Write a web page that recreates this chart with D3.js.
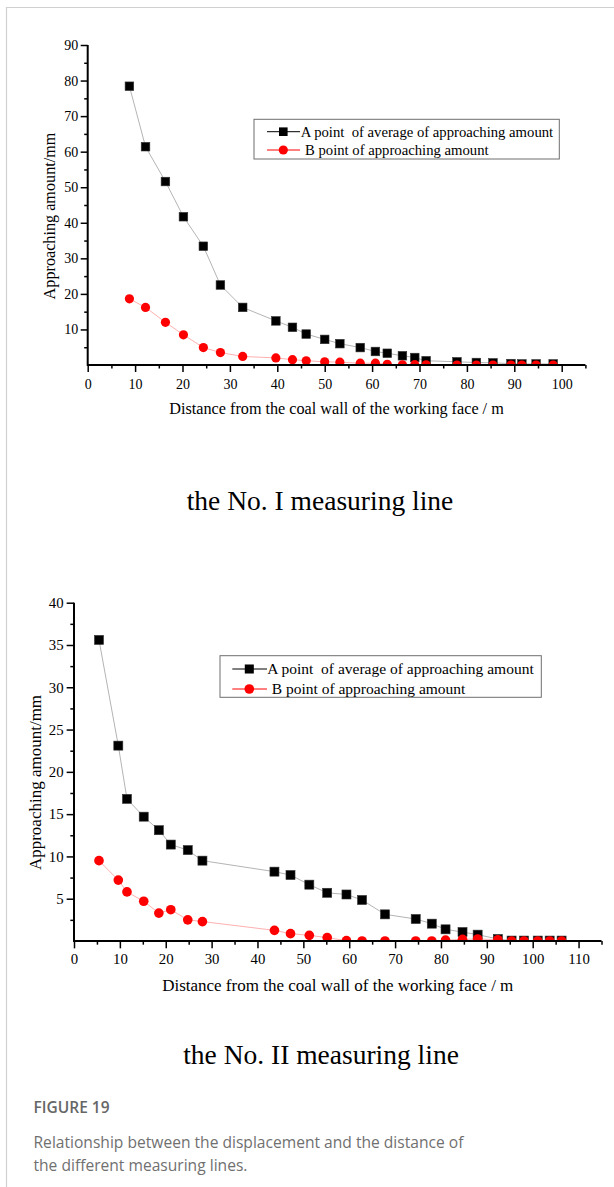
<!DOCTYPE html>
<html>
<head>
<meta charset="utf-8">
<script src="https://cdn.jsdelivr.net/npm/d3@7"></script>
<style>
  html, body { margin: 0; padding: 0; background: #fff; }
  svg { display: block; }
  svg text.serif { font-family: "Liberation Serif", "Times New Roman", serif; fill: #000; }
  svg text.caption { font-family: "Open Sans", "Noto Sans", sans-serif; }
</style>
</head>
<body>
<svg id="fig" width="614" height="1187"></svg>
<script>
// ---- No. I measuring line ----
const distI   = [8.8, 12.2, 16.4, 20.2, 24.4, 28.0, 32.7, 39.7, 43.2, 46.1, 50.0, 53.2, 57.5,
                 60.7, 63.2, 66.4, 69.0, 71.4, 77.9, 82.0, 85.5, 89.3, 91.6, 94.6, 98.2];
const pointA_I = [78.4, 61.4, 51.6, 41.7, 33.4, 22.5, 16.2, 12.4, 10.6, 8.7, 7.2, 6.0, 4.9,
                  3.8, 3.3, 2.6, 2.1, 1.2, 0.9, 0.7, 0.6, 0.4, 0.3, 0.3, 0.3];
const pointB_I = [18.6, 16.2, 12.0, 8.5, 4.9, 3.5, 2.4, 2.0, 1.5, 1.2, 0.9, 0.8, 0.5,
                  0.5, 0.2, 0.05, 0.1, 0.05, 0, 0, 0, 0, 0, 0, 0];
const xTicksI = [0, 10, 20, 30, 40, 50, 60, 70, 80, 90, 100];
const yTicksI = [10, 20, 30, 40, 50, 60, 70, 80, 90];

// ---- No. II measuring line ----
const distII   = [5.45, 9.66, 11.55, 15.2, 18.5, 21.1, 24.8, 28.0, 43.7, 47.2, 51.3, 55.2, 59.4,
                  62.8, 67.8, 74.5, 78.0, 81.0, 84.7, 88.0, 92.4, 95.4, 98.1, 101.1, 103.7, 106.3];
const pointA_II = [35.6, 23.1, 16.8, 14.7, 13.1, 11.4, 10.75, 9.5, 8.2, 7.8, 6.66, 5.7, 5.5,
                   4.85, 3.15, 2.6, 2.05, 1.38, 1.06, 0.75, 0.24, 0.05, 0.05, 0.05, 0.05, 0.05];
const pointB_II = [9.5, 7.2, 5.8, 4.7, 3.3, 3.7, 2.5, 2.3, 1.26, 0.87, 0.67, 0.4, 0.04,
                   0, 0, 0, 0, 0.1, 0.2, 0.24, 0.15, 0, 0, 0, 0, 0];
const xTicksII = [0, 10, 20, 30, 40, 50, 60, 70, 80, 90, 100, 110];
const yTicksII = [5, 10, 15, 20, 25, 30, 35, 40];

const seriesNames = ["A point  of average of approaching amount", "B point of approaching amount"];
const yTitle = "Approaching amount/mm";
const xTitle = "Distance from the coal wall of the working face / m";
const panelTitles = ["the No. I measuring line", "the No. II measuring line"];
const captionHead = "FIGURE 19";
const captionLines = ["Relationship between the displacement and the distance of",
                      "the different measuring lines."];

const SERIF = '"Liberation Serif", "Times New Roman", serif';
const svg = d3.select("#fig");

// page frame
svg.append("path")
  .attr("d", "M6.5,1187 V7.5 H614")
  .attr("fill", "none").attr("stroke", "#d0d0d0").attr("stroke-width", 1.2);

function styleAxis(sel, fontSize) {
  sel.attr("font-family", SERIF).attr("font-size", fontSize);
  sel.select(".domain").remove();
  sel.selectAll("line").attr("stroke-width", 1.5);
  sel.selectAll("text").attr("font-family", SERIF).attr("font-size", fontSize).attr("fill", "#000");
}

function drawPanel(cfg) {
  const g = svg.append("g");
  const x = d3.scaleLinear().domain(cfg.xDomain).range([cfg.left, cfg.right]);
  const y = d3.scaleLinear().domain(cfg.yDomain).range([cfg.bottom, cfg.top]);
  const s = cfg.scale;

  // minor ticks
  g.append("g").attr("transform", `translate(0,${cfg.bottom})`)
    .call(d3.axisBottom(x).tickValues(cfg.xMinor).tickSize(3.5 * s).tickFormat(""))
    .call(a => styleAxis(a, cfg.tickFont));
  g.append("g").attr("transform", `translate(${cfg.left},0)`)
    .call(d3.axisLeft(y).tickValues(cfg.yMinor).tickSize(3.5 * s).tickFormat(""))
    .call(a => styleAxis(a, cfg.tickFont));

  // major ticks + labels
  g.append("g").attr("transform", `translate(0,${cfg.bottom})`)
    .call(d3.axisBottom(x).tickValues(cfg.xTicks).tickSize(7 * s).tickPadding(cfg.xPad))
    .call(a => styleAxis(a, cfg.tickFont));
  g.append("g").attr("transform", `translate(${cfg.left},0)`)
    .call(d3.axisLeft(y).tickValues(cfg.yTicks).tickSize(7 * s).tickPadding(cfg.yPad))
    .call(a => styleAxis(a, cfg.tickFont));

  // data, clipped to the plotting area
  const clipId = "clip" + cfg.id;
  svg.append("clipPath").attr("id", clipId).append("rect")
    .attr("x", cfg.left).attr("y", cfg.top - 6)
    .attr("width", cfg.right - cfg.left + 6).attr("height", cfg.bottom - cfg.top + 6);
  const plot = g.append("g").attr("clip-path", `url(#${clipId})`);

  const ptsA = cfg.dist.map((d, i) => [d, cfg.a[i]]);
  const ptsB = cfg.dist.map((d, i) => [d, cfg.b[i]]);
  const line = d3.line().x(d => x(d[0])).y(d => y(d[1]));

  plot.append("path").datum(ptsA).attr("d", line)
    .attr("fill", "none").attr("stroke", "#b4b4b4").attr("stroke-width", 1);
  plot.append("path").datum(ptsB).attr("d", line)
    .attr("fill", "none").attr("stroke", "#ffb0b0").attr("stroke-width", 1);

  const sq = 8.6 * s;
  plot.selectAll("rect.a").data(ptsA).enter().append("rect")
    .attr("x", d => x(d[0]) - sq / 2).attr("y", d => y(d[1]) - sq / 2)
    .attr("width", sq).attr("height", sq)
    .attr("fill", "#000").attr("stroke", "#333").attr("stroke-width", 0.6);
  plot.selectAll("circle.b").data(ptsB).enter().append("circle")
    .attr("cx", d => x(d[0])).attr("cy", d => y(d[1])).attr("r", 4.6 * s)
    .attr("fill", "#ff0000");

  // axis lines
  g.append("path")
    .attr("d", `M${cfg.left},${cfg.top} V${cfg.bottom} H${cfg.right}`)
    .attr("fill", "none").attr("stroke", "#000").attr("stroke-width", 2);

  // axis titles
  g.append("text").attr("class", "serif").attr("font-family", SERIF)
    .attr("x", (cfg.left + cfg.right) / 2).attr("y", cfg.xTitleY)
    .attr("text-anchor", "middle").attr("font-size", cfg.titleFont).text(xTitle);
  g.append("text").attr("class", "serif").attr("font-family", SERIF)
    .attr("transform", `translate(${cfg.yTitleX},${cfg.yTitleY}) rotate(-90)`)
    .attr("text-anchor", "middle").attr("font-size", cfg.titleFont).text(yTitle);

  // legend
  const L = cfg.legend;
  g.append("rect").attr("x", L.x0).attr("y", L.y0)
    .attr("width", L.x1 - L.x0).attr("height", L.y1 - L.y0)
    .attr("fill", "#fff").attr("stroke", "#6e6e6e").attr("stroke-width", 1);
  const rows = [
    { name: seriesNames[0], color: "#000", shape: "square", y: L.rowA, tx: L.textA },
    { name: seriesNames[1], color: "#ff0000", shape: "circle", y: L.rowB, tx: L.textB }
  ];
  rows.forEach(r => {
    g.append("line").attr("x1", L.lineX0).attr("x2", L.lineX1)
      .attr("y1", r.y).attr("y2", r.y).attr("stroke", r.color).attr("stroke-width", 1);
    if (r.shape === "square") {
      g.append("rect").attr("x", L.mark - sq / 2).attr("y", r.y - sq / 2)
        .attr("width", sq).attr("height", sq).attr("fill", "#000");
    } else {
      g.append("circle").attr("cx", L.mark).attr("cy", r.y).attr("r", 4.6 * s).attr("fill", "#ff0000");
    }
    g.append("text").attr("class", "serif").attr("font-family", SERIF)
      .attr("x", r.tx).attr("y", r.y)
      .attr("dy", "0.34em").attr("font-size", cfg.legendFont)
      .style("white-space", "pre").text(r.name);
  });

  // panel title
  g.append("text").attr("class", "serif").attr("font-family", SERIF)
    .attr("x", cfg.panelX).attr("y", cfg.panelY)
    .attr("text-anchor", "middle").attr("font-size", 27.5).text(cfg.panelTitle);
}

drawPanel({
  id: 1, scale: 1,
  dist: distI, a: pointA_I, b: pointB_I,
  xDomain: [0, 105], yDomain: [0, 90],
  left: 87.7, right: 585.4, top: 45, bottom: 365,
  xTicks: xTicksI, yTicks: yTicksI,
  xMinor: d3.range(5, 106, 10), yMinor: d3.range(5, 90, 10),
  tickFont: 14, xPad: 7, yPad: 2.5,
  titleFont: 16.2, xTitleY: 413.5, yTitleX: 55, yTitleY: 216,
  legendFont: 14.7,
  legend: { x0: 254, x1: 559.3, y0: 119.3, y1: 159, rowA: 131.7, rowB: 150,
            lineX0: 267, lineX1: 300, mark: 283.3, textA: 300.7, textB: 305 },
  panelTitle: panelTitles[0], panelX: 320, panelY: 510
});

drawPanel({
  id: 2, scale: 1.05,
  dist: distII, a: pointA_II, b: pointB_II,
  xDomain: [0, 115], yDomain: [0, 40],
  left: 74, right: 601.5, top: 602.7, bottom: 941,
  xTicks: xTicksII, yTicks: yTicksII,
  xMinor: d3.range(5, 116, 10), yMinor: d3.range(2.5, 40, 5),
  tickFont: 14.8, xPad: 5.5, yPad: 3,
  titleFont: 17, xTitleY: 991, yTitleX: 40.5, yTitleY: 782.5,
  legendFont: 15.5,
  legend: { x0: 220, x1: 541.3, y0: 655.7, y1: 697.3, rowA: 669, rowB: 689,
            lineX0: 232.3, lineX1: 267, mark: 249.3, textA: 267.3, textB: 271.7 },
  panelTitle: panelTitles[1], panelX: 321, panelY: 1064
});

// caption
svg.append("text").attr("class", "caption").attr("x", 33.5).attr("y", 1113)
  .attr("font-family", '"Open Sans", "Noto Sans", sans-serif')
  .attr("font-size", 15.5).attr("font-weight", 600).attr("fill", "#666").text(captionHead);
captionLines.forEach((t, i) => {
  svg.append("text").attr("class", "caption").attr("x", 33.5).attr("y", 1148 + i * 23)
    .attr("font-family", '"Open Sans", "Noto Sans", sans-serif')
    .attr("font-size", 15.6).attr("fill", "#707070").text(t);
});
</script>
</body>
</html>
